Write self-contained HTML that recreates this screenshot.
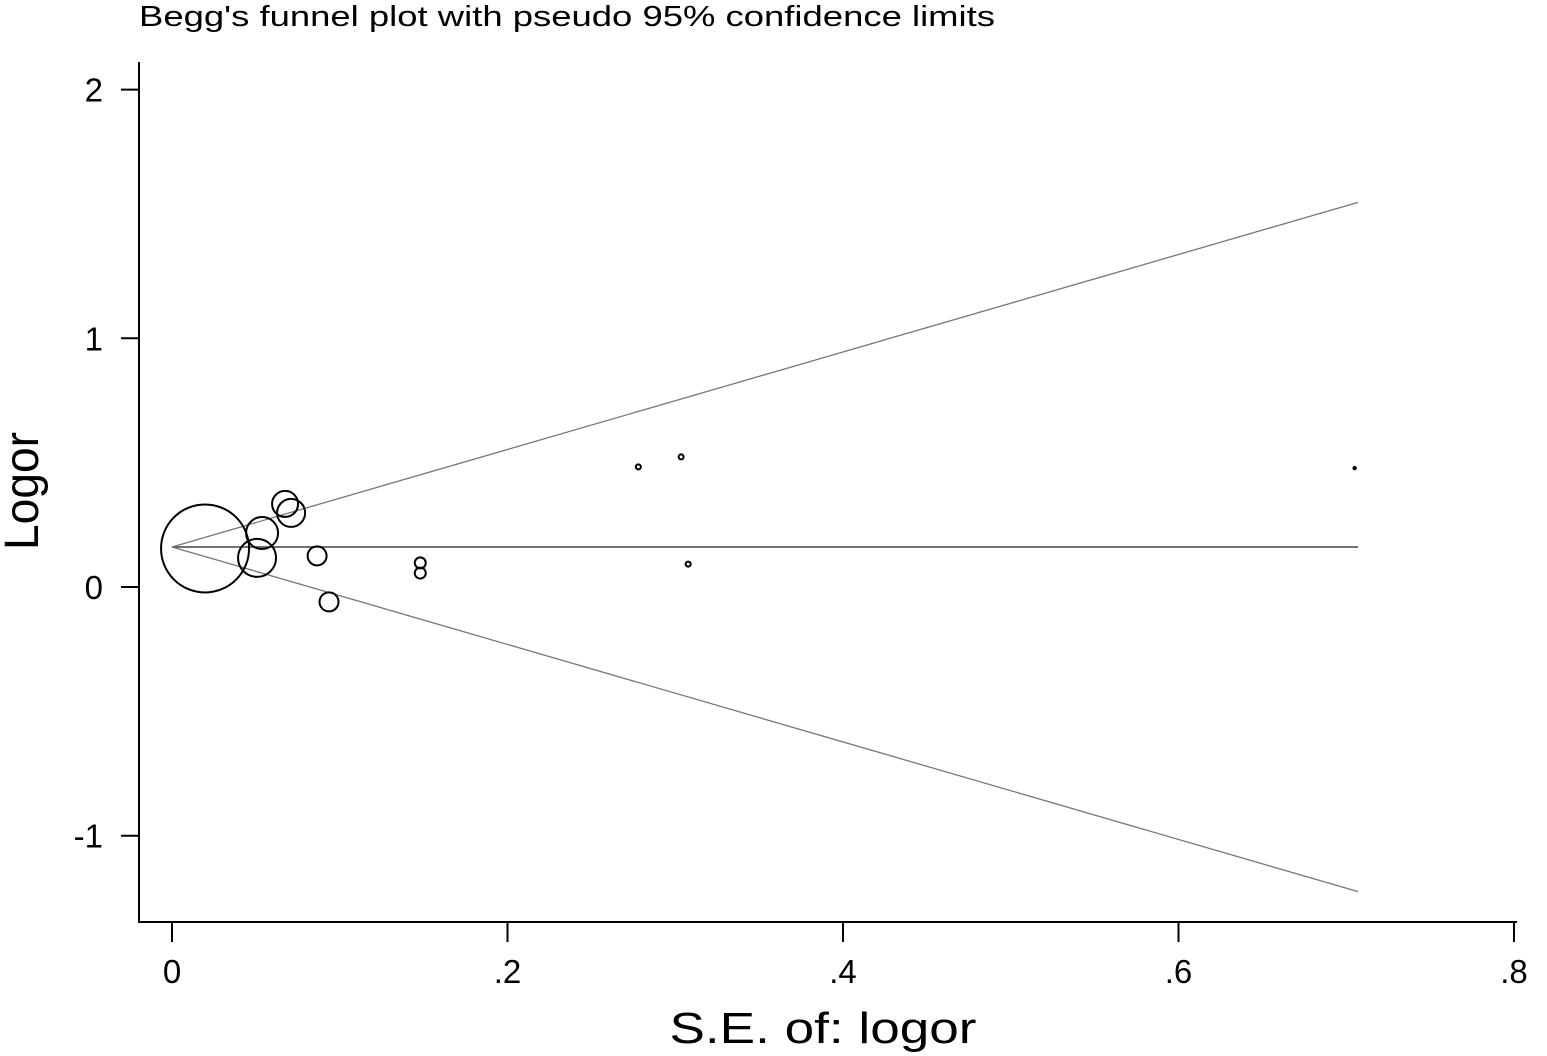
<!DOCTYPE html>
<html><head><meta charset="utf-8">
<style>
html,body{margin:0;padding:0;background:#fff;}
svg{display:block;font-family:"Liberation Sans",Arial,sans-serif;}
</style></head>
<body>
<svg id="chart" width="1547" height="1056" viewBox="0 0 1547 1056">
<text x="139" y="26" font-size="29" textLength="856" lengthAdjust="spacingAndGlyphs" fill="#000">Begg's funnel plot with pseudo 95% confidence limits</text>
<line x1="139" y1="62" x2="139" y2="922" stroke="#000" stroke-width="2"/>
<line x1="138" y1="922" x2="1517" y2="922" stroke="#000" stroke-width="2"/>
<text x="38" y="491" font-size="48" text-anchor="middle" transform="rotate(-90 38 491)" textLength="118" lengthAdjust="spacingAndGlyphs" fill="#000">Logor</text>
<text x="823" y="1043" font-size="44" text-anchor="middle" textLength="307" lengthAdjust="spacingAndGlyphs" fill="#000">S.E. of: logor</text>
<g id="ticks"></g>
<g id="marks"></g>
</svg>
<script>
const xTicks = [0, 0.2, 0.4, 0.6, 0.8];
const xTickLabels = ["0", ".2", ".4", ".6", ".8"];
const yTicks = [2, 1, 0, -1];
const yTickLabels = ["2", "1", "0", "-1"];
const pooledEstimate = 0.161;
const maxSE = 0.707;
const studySE = [0.0197, 0.0537, 0.0507, 0.0674, 0.071, 0.0865, 0.0936, 0.148, 0.148, 0.278, 0.3035, 0.3077, 0.705];
const studyLogor = [0.155, 0.217, 0.117, 0.334, 0.298, 0.125, -0.06, 0.097, 0.056, 0.483, 0.523, 0.092, 0.478];
const studyWeight = [44, 16, 19, 13, 14, 9.5, 9.5, 5.5, 5.5, 2.5, 2.5, 2.5, 1.2];

const NS = "http://www.w3.org/2000/svg";
const xs = v => 172 + v * 1677.5;
const ys = v => 587 - v * 248.7;
function mk(tag, attrs, parent) {
  const e = document.createElementNS(NS, tag);
  for (const k in attrs) e.setAttribute(k, attrs[k]);
  parent.appendChild(e);
  return e;
}
const ticks = document.getElementById("ticks");
const marks = document.getElementById("marks");
xTicks.forEach((t, i) => {
  const l = mk("line", {x1: xs(t), x2: xs(t), y1: 922, y2: 942, stroke: "#000", "stroke-width": 2}, ticks);
  
  
  const tx = mk("text", {x: xs(t), y: 983, "font-size": 33, "text-anchor": "middle"}, ticks);
  tx.textContent = xTickLabels[i];
  
  
});
yTicks.forEach((t, i) => {
  const l = mk("line", {x1: 121, x2: 139, y1: ys(t), y2: ys(t), stroke: "#000", "stroke-width": 2}, ticks);
  
  
  const tx = mk("text", {x: 103, y: ys(t) + 12, "font-size": 33, "text-anchor": "end"}, ticks);
  tx.textContent = yTickLabels[i];
  
  
});
const cl = mk("line", {x1: xs(0), x2: xs(maxSE), y1: ys(pooledEstimate), y2: ys(pooledEstimate), stroke: "#444", "stroke-width": 1.5}, marks);


const up = mk("line", {x1: xs(0), x2: xs(maxSE), y1: ys(pooledEstimate), y2: ys(pooledEstimate + 1.96 * maxSE), stroke: "#777", "stroke-width": 1.3}, marks);


const lo = mk("line", {x1: xs(0), x2: xs(maxSE), y1: ys(pooledEstimate), y2: ys(pooledEstimate - 1.96 * maxSE), stroke: "#777", "stroke-width": 1.3}, marks);


studySE.forEach((se, i) => {
  const c = mk("circle", {cx: xs(se), cy: ys(studyLogor[i]), r: studyWeight[i], fill: "none", stroke: "#000", "stroke-width": 2}, marks);
  
  
});
</script>
</body></html>
